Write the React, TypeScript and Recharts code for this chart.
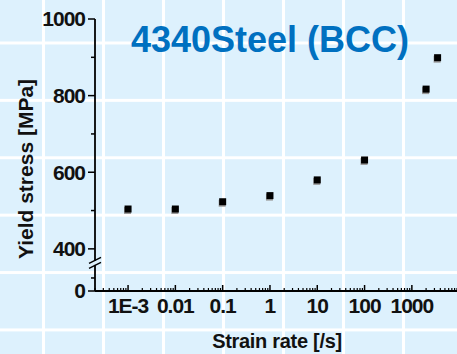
import { ScatterChart, Scatter, XAxis, YAxis } from 'recharts'

// measured yield stress of 4340 steel vs strain rate
const strainRate = [0.001, 0.01, 0.1, 1, 10, 100, 2000, 3500]
const yieldStress = [504, 504, 523, 539, 580, 632, 817, 899]

const decadeTicks = [0.001, 0.01, 0.1, 1, 10, 100, 1000]
const decadeLabels = ['1E-3', '0.01', '0.1', '1', '10', '100', '1000']
const stressMajor = [400, 600, 800, 1000]
const stressMinor = [500, 700, 900]

// the stress axis is broken under 400; the short stub below the break holds the 0 tick
const AXIS_FLOOR = 290
const BREAK_AT = 362
const STUB_MINOR = 324

const FONT = '"Liberation Sans", Arial, sans-serif'
const BG = '#ddf1fd'

const minorRates: number[] = []
for (let e = -4; e <= 3; e++) {
  for (let k = 2; k <= 9; k++) {
    const v = k * Math.pow(10, e)
    if (v >= 2e-4 && v <= 9000) minorRates.push(v)
  }
}

const data = strainRate.map((rate, i) => ({ rate, stress: yieldStress[i] }))

function RateTick(props: any) {
  const { x, y, payload } = props
  const i = decadeTicks.indexOf(payload.value)
  if (i < 0) {
    return <line x1={x} x2={x} y1={y} y2={y - 3} stroke="#000" strokeWidth={1.2} />
  }
  return (
    <g>
      <line x1={x} x2={x} y1={y + 1} y2={y - 6} stroke="#000" strokeWidth={1.5} />
      <text x={x} y={y + 22} textAnchor="middle" fontFamily={FONT} fontWeight="bold" fontSize={21} letterSpacing={-1} fill="#111">
        {decadeLabels[i]}
      </text>
    </g>
  )
}

function StressTick(props: any) {
  const { x, y, payload } = props
  const v = payload.value
  if (v === BREAK_AT) {
    return (
      <g>
        <rect x={x - 2} y={y - 2.5} width={4} height={4} fill={BG} />
        <line x1={x - 6} y1={y} x2={x + 6} y2={y - 6} stroke="#000" strokeWidth={1.5} />
        <line x1={x - 6} y1={y + 5} x2={x + 6} y2={y - 1} stroke="#000" strokeWidth={1.5} />
      </g>
    )
  }
  if (v === STUB_MINOR || stressMinor.includes(v)) {
    return <line x1={x} x2={x - 4} y1={y} y2={y} stroke="#000" strokeWidth={1.5} />
  }
  const label = v === AXIS_FLOOR ? '0' : String(v)
  return (
    <g>
      <line x1={x} x2={x - 7} y1={y} y2={y} stroke="#000" strokeWidth={1.5} />
      <text x={x - 10} y={y} dy="0.35em" textAnchor="end" fontFamily={FONT} fontWeight="bold" fontSize={21} letterSpacing={-1} fill="#111">
        {label}
      </text>
    </g>
  )
}

function Marker(props: any) {
  const { cx, cy } = props
  return (
    <g>
      <rect x={cx - 4} y={cy - 2} width={7} height={7} fill="#9a9a9a" />
      <rect x={cx - 3.5} y={cy - 3.5} width={7} height={7} fill="#000" />
    </g>
  )
}

export default function App() {
  return (
    <div
      style={{
        position: 'absolute',
        left: 0,
        top: 0,
        width: 457,
        height: 354,
        backgroundColor: BG,
        backgroundImage:
          'linear-gradient(to right, #fff 3px, transparent 3px), linear-gradient(to bottom, #fff 3px, transparent 3px)',
        backgroundSize: '60px 100%, 100% 57.4px',
        backgroundPosition: '42px 0, 0 41.5px',
        overflow: 'hidden',
      }}
    >
      <ScatterChart width={457} height={354} margin={{ top: 19, right: 0, bottom: 0, left: 0 }}>
        <XAxis
          type="number"
          dataKey="rate"
          scale="log"
          domain={[2e-4, 9000]}
          allowDataOverflow
          ticks={[...decadeTicks, ...minorRates]}
          interval={0}
          tick={<RateTick />}
          tickLine={false}
          tickSize={0}
          tickMargin={0}
          height={63}
          axisLine={{ stroke: '#000', strokeWidth: 1.8 }}
        />
        <YAxis
          type="number"
          dataKey="stress"
          domain={[AXIS_FLOOR, 1000]}
          allowDataOverflow
          ticks={[AXIS_FLOOR, STUB_MINOR, BREAK_AT, ...stressMajor, ...stressMinor]}
          interval={0}
          tick={<StressTick />}
          tickLine={false}
          tickSize={0}
          tickMargin={0}
          width={95}
          axisLine={{ stroke: '#000', strokeWidth: 1.8 }}
        />
        <Scatter data={data} shape={<Marker />} isAnimationActive={false} />
      </ScatterChart>
      <svg width={457} height={354} style={{ position: 'absolute', left: 0, top: 0, pointerEvents: 'none' }}>
        <text x={270} y={52} textAnchor="middle" fontFamily={FONT} fontWeight="bold" fontSize={36} fill="#0070c0">
          4340Steel (BCC)
        </text>
        <text x={277} y={348} textAnchor="middle" fontFamily={FONT} fontWeight="bold" fontSize={20} letterSpacing={-0.3} fill="#111">
          Strain rate [/s]
        </text>
        <text
          x={33}
          y={169}
          transform="rotate(-90, 33, 169)"
          textAnchor="middle"
          fontFamily={FONT}
          fontWeight="bold"
          fontSize={21}
          fill="#111"
        >
          Yield stress [MPa]
        </text>
      </svg>
    </div>
  )
}
